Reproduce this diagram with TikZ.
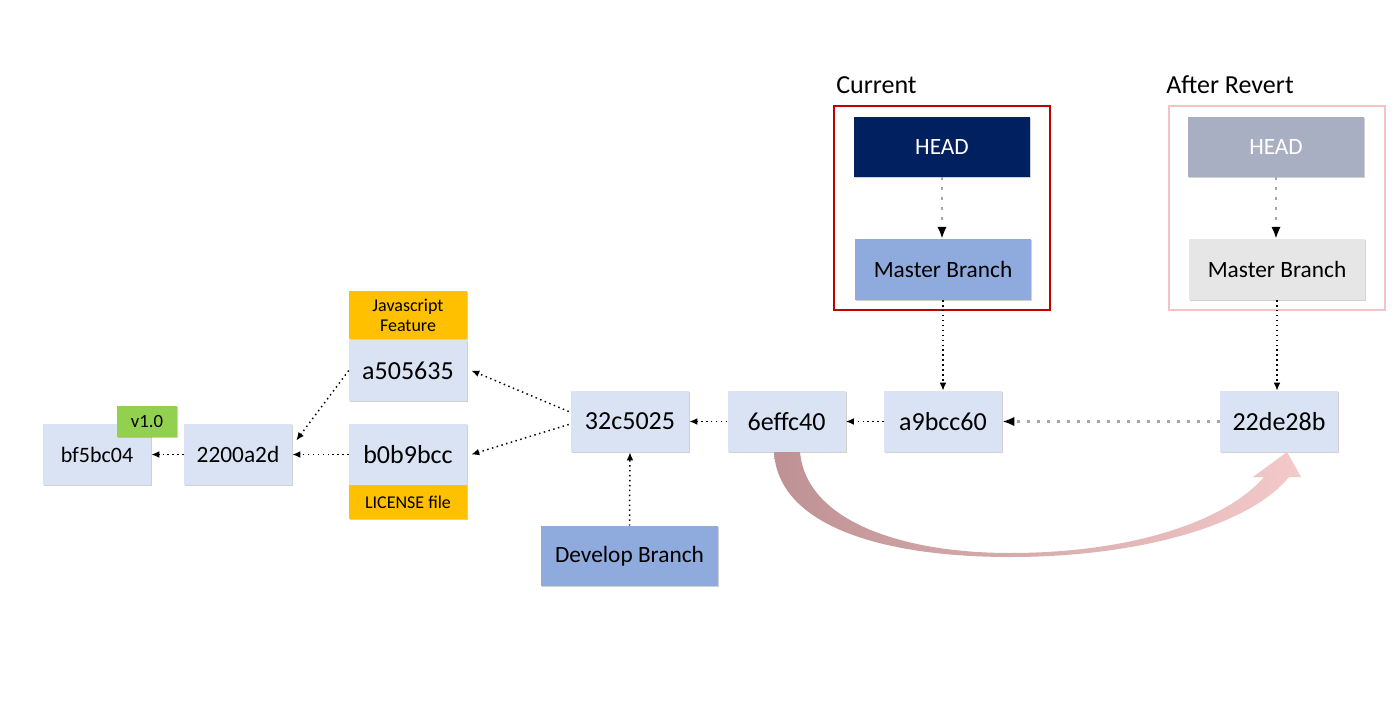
\documentclass[tikz,border=0pt]{standalone}
\usepackage{fontspec}
\setmainfont{Carlito}
\usetikzlibrary{arrows.meta,shadows,calc}
\definecolor{commitfill}{HTML}{DAE3F3}
\definecolor{branchfill}{HTML}{8FAADC}
\definecolor{headfill}{HTML}{002060}
\definecolor{headgray}{HTML}{A9AFC2}
\definecolor{mastergray}{HTML}{E7E6E6}
\definecolor{tagorange}{HTML}{FFC000}
\definecolor{taggreen}{HTML}{92D050}
\definecolor{curred}{HTML}{C00000}
\definecolor{revpink}{HTML}{F2C4C4}
\definecolor{dotgray}{HTML}{A6A6A6}
\definecolor{bandleft}{HTML}{BE9294}
\definecolor{bandright}{HTML}{F4C9C9}
\tikzset{
  boxshadow/.style={drop shadow={shadow xshift=0.9pt,shadow yshift=-0.9pt,opacity=0.3,fill=black!60}},
  commit/.style={rectangle,fill=commitfill,minimum width=88.5pt,minimum height=45.75pt,inner sep=0pt,font=\fontsize{19.5}{22}\selectfont,boxshadow},
  branchbox/.style={rectangle,minimum width=132pt,minimum height=45.5pt,inner sep=0pt,font=\fontsize{17.5}{20}\selectfont,boxshadow},
  tagbox/.style={rectangle,fill=tagorange,minimum width=88.5pt,inner sep=0pt,font=\fontsize{13.5}{15}\selectfont,align=center,boxshadow},
  dotarrow/.style={line width=1.1pt,dash pattern=on 1.1pt off 2.6pt,-{Latex[length=6pt,width=5pt]}},
  grayarrow/.style={draw=dotgray,line width=2pt,dash pattern=on 2pt off 5.5pt,-{Latex[length=9pt,width=7pt,black]}},
  framebox/.style={rectangle,line width=1.5pt,minimum width=162pt,minimum height=153pt,inner sep=0pt},
  toplabel/.style={anchor=base west,inner sep=0pt,font=\fontsize{19.5}{22}\selectfont}
}
\begin{document}
\begin{tikzpicture}[x=0.75pt,y=-0.75pt]
\useasboundingbox (0,0) rectangle (1398,706);
% frames
\node[framebox,draw=curred] (curframe) at (942,208) {};
\node[framebox,draw=revpink] (revframe) at (1277,208) {};
\node[toplabel] (curlabel) at (836,94) {Current};
\node[toplabel] (revlabel) at (1166,94) {After Revert};
% heads and branches
\node[branchbox,fill=headfill,text=white,minimum height=45pt] (head) at (942,147) {HEAD};
\node[branchbox,fill=branchfill] (master) at (943,269.5) {Master Branch};
\node[branchbox,fill=headgray,text=white,minimum height=45pt] (headg) at (1276,147) {HEAD};
\node[branchbox,fill=mastergray] (masterg) at (1277,269.5) {Master Branch};
\node[branchbox,fill=branchfill,minimum width=132.75pt,minimum height=45pt] (develop) at (629.5,556) {Develop Branch};
% commits
\node[commit,minimum width=81pt,font=\fontsize{16.5}{19}\selectfont] (bf5) at (97,454.5) {bf5bc04};
\node[commit,minimum width=81pt,font=\fontsize{17.5}{20}\selectfont] (n2200) at (238,454.5) {2200a2d};
\node[commit] (a505) at (408,370.5) {a505635};
\node[commit] (b0b) at (408,454.5) {b0b9bcc};
\node[commit] (n32c) at (630,421.5) {32c5025};
\node[commit] (n6ef) at (786.5,421.5) {6effc40};
\node[commit] (a9b) at (943,421.5) {a9bcc60};
\node[commit] (n22d) at (1279,421.5) {22de28b};
% tags
\node[rectangle,fill=taggreen,minimum width=45pt,minimum height=23.25pt,inner sep=0pt,font=\fontsize{14}{16}\selectfont,boxshadow] (v10) at (147,421.5) {v1.0};
\node[tagbox,minimum height=36pt] (jsfeat) at (408,315) {Javascript\\Feature};
\node[tagbox,minimum height=25.5pt] (lic) at (408,502) {LICENSE file};
% revert band arrow
\shade[left color=bandleft,right color=bandright]
  (774,452) .. controls (778,525) and (880,557) .. (1010,557)
  .. controls (1140,557) and (1250,525) .. (1289,477)
  -- (1301,477) -- (1287,452) -- (1253,477) -- (1264,477)
  .. controls (1225,522) and (1130,553) .. (1010,553)
  .. controls (900,553) and (806,520) .. (800,452) -- cycle;
% connectors
\draw[dotarrow] (n2200.west) -- (bf5.east);
\draw[dotarrow] (b0b.west) -- (n2200.east);
\draw[dotarrow] (a505.west) -- ([shift={(4,-14)}]n2200.east);
\draw[dotarrow] ([shift={(-2,-10)}]n32c.west) -- ([xshift=3pt]a505.east);
\draw[dotarrow] ([shift={(-2,3)}]n32c.west) -- ([xshift=3pt]b0b.east);
\draw[dotarrow] (n6ef.west) -- (n32c.east);
\draw[dotarrow] (a9b.west) -- (n6ef.east);
\draw[dotarrow] (develop.north) -- (n32c.south);
\draw[dotarrow] (master.south) -- (a9b.north);
\draw[dotarrow] (masterg.south) -- (n22d.north -| masterg.south);
\draw[grayarrow] (n22d.west) -- (a9b.east);
\draw[grayarrow] (head.south) -- (master.north -| head.south);
\draw[grayarrow] (headg.south) -- (masterg.north -| headg.south);
\end{tikzpicture}
\end{document}
